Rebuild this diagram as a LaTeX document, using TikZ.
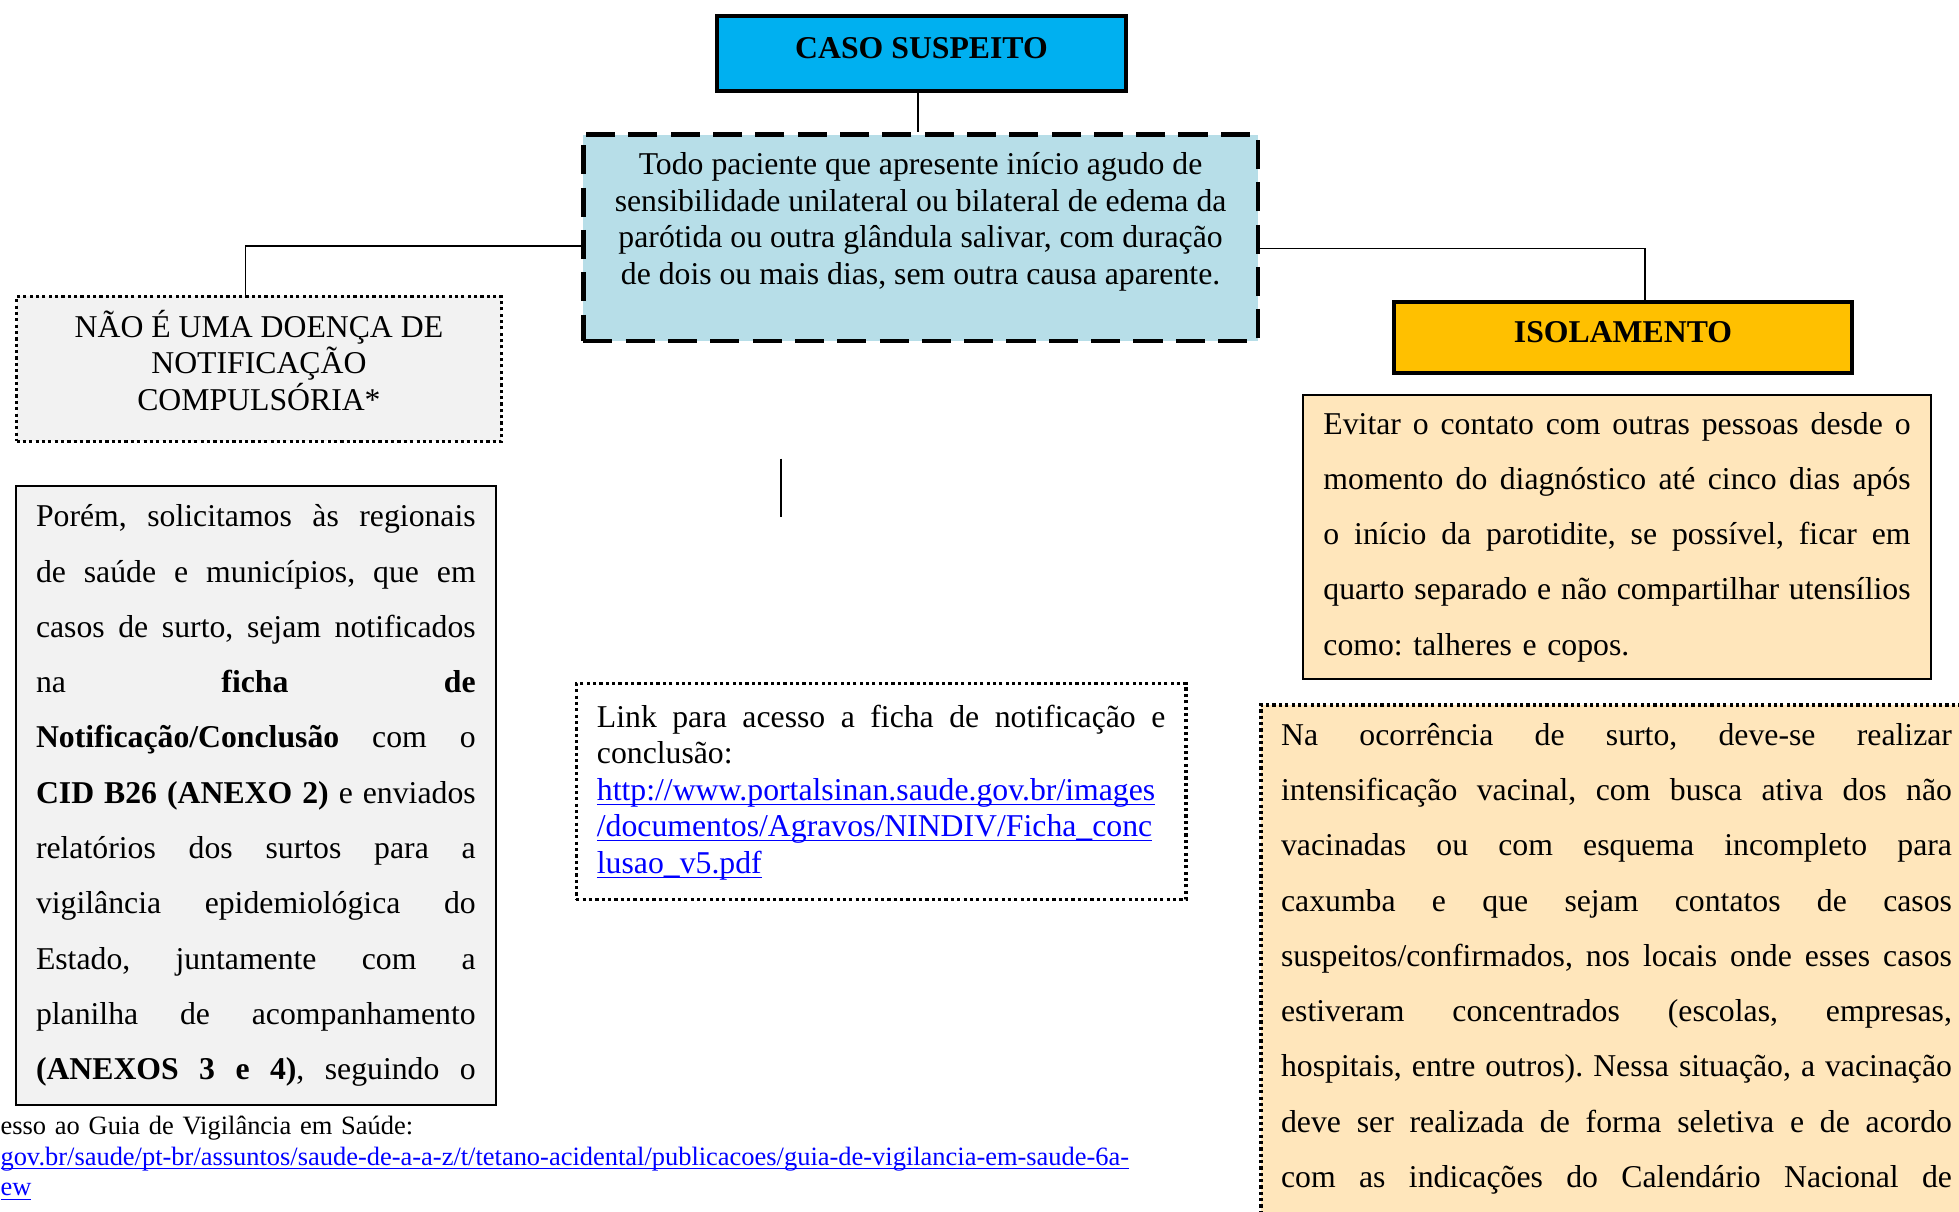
\documentclass[tikz,border=0pt]{standalone}
\usepackage{fontspec}
\setmainfont{Liberation Serif}
\usepackage{tikz}
\usetikzlibrary{positioning}
\frenchspacing
\tikzstyle{sheet} = [x = 0.0166cm, y = -0.0166cm]
\definecolor{caseColor}{RGB}{0,176,240}
\definecolor{definitionColor}{RGB}{183,222,232}
\definecolor{noteColor}{RGB}{242,242,242}
\definecolor{isolationColor}{RGB}{255,192,0}
\definecolor{adviceColor}{RGB}{255,230,187}
\definecolor{linkColor}{RGB}{0,0,255}
\tikzstyle{headerBox} = [draw, line width=1.5pt, anchor=north west, font=\fontsize{12}{13.8}\selectfont\bfseries, text height=0.68em, text depth=0.3em]
\tikzstyle{definitionBox} = [draw, fill=definitionColor, line width=1.75pt, dash pattern=on 11pt off 5pt, anchor=north west]
\tikzstyle{dottedBox} = [draw, line width=1.2pt, dash pattern=on 1.2pt off 1.2pt, anchor=north west]
\tikzstyle{plainBox} = [draw, line width=0.75pt, anchor=north west]
\tikzstyle{singleText} = [font=\fontsize{12}{13.8}\selectfont]
\tikzstyle{spacedText} = [font=\fontsize{12}{20.9}\selectfont, align=left, inner sep=0pt]
\tikzstyle{connector} = [line width=0.6pt]
\newlength{\textLineWidth}
\newcommand{\justifiedLine}[1]{\noindent\hbox to \textLineWidth{\spaceskip=0.25em plus 1fil\relax #1}}
\newcommand{\webLink}[1]{\textcolor{linkColor}{\underbar{#1}}}

\begin{document}
\begin{tikzpicture}[sheet]
  \useasboundingbox (0,0) rectangle (1568,970);
  \clip (0,0) rectangle (1568,970);

  \node[headerBox, fill=caseColor, minimum width=5.445cm, minimum height=0.996cm] (caseBox) at (572,11) {CASO SUSPEITO};
  \node[definitionBox, minimum width=8.964cm, minimum height=2.739cm] (definition) at (465,106) {};
  \node[singleText, align=center, inner sep=0pt, below=0.26cm of definition.north] (definitionText)
    {Todo paciente que apresente início agudo de\\
     sensibilidade unilateral ou bilateral de edema da\\
     parótida ou outra glândula salivar, com duração\\
     de dois ou mais dias, sem outra causa aparente.};

  \node[dottedBox, fill=noteColor, minimum width=6.441cm, minimum height=1.926cm] (notCompulsory) at (12,236) {};
  \node[singleText, align=center, inner sep=0pt] (notCompulsoryText) at ([yshift=0.116cm]notCompulsory.center)
    {NÃO É UMA DOENÇA DE\\NOTIFICAÇÃO\\COMPULSÓRIA*};
  \setlength{\textLineWidth}{5.843cm}
  \node[plainBox, fill=noteColor, spacedText, text width=5.843cm, inner xsep=0.266cm, minimum height=8.234cm] (outbreakNote) at (12,388)
    {\justifiedLine{Porém, solicitamos às regionais}\\
     \justifiedLine{de saúde e municípios, que em}\\
     \justifiedLine{casos de surto, sejam notificados}\\
     \justifiedLine{na \textbf{ficha de}}\\
     \justifiedLine{\textbf{Notificação/Conclusão} com o}\\
     \justifiedLine{\textbf{CID B26 (ANEXO 2)} e enviados}\\
     \justifiedLine{relatórios dos surtos para a}\\
     \justifiedLine{vigilância epidemiológica do}\\
     \justifiedLine{Estado, juntamente com a}\\
     \justifiedLine{planilha de acompanhamento}\\
     \justifiedLine{\textbf{(ANEXOS 3 e 4)}, seguindo o}};
  \node[font=\fontsize{10}{11.5}\selectfont, align=left, text width=16cm, inner sep=0pt, anchor=north west] (guideLink) at (0,893)
    {esso ao Guia de Vigilância em Saúde:\\
     \webLink{gov.br/saude/pt-br/assuntos/saude-de-a-a-z/t/tetano-acidental/publicacoes/guia-de-vigilancia-em-saude-6a-}\\
     \webLink{ew}};

  \coordinate (stubTop) at (625,367);
  \coordinate (stubEnd) at (625,414);
  \draw[connector] (stubTop) -- (stubEnd);

  \setlength{\textLineWidth}{7.553cm}
  \node[dottedBox, fill=white, singleText, align=left, text width=7.553cm, inner xsep=0.274cm, inner ysep=0pt, minimum height=2.872cm] (formLink) at (460,546)
    {\justifiedLine{Link para acesso a ficha de notificação e}\\
     conclusão:\\
     \webLink{http://www.portalsinan.saude.gov.br/images}\\
     \webLink{/documentos/Agravos/NINDIV/Ficha\_conc}\\
     \webLink{lusao\_v5.pdf}};

  \node[headerBox, fill=isolationColor, minimum width=6.092cm, minimum height=0.946cm] (isolation) at (1114,240) {ISOLAMENTO};
  \setlength{\textLineWidth}{7.802cm}
  \node[plainBox, fill=adviceColor, spacedText, text width=7.802cm, inner xsep=0.274cm, minimum height=3.785cm] (isolationAdvice) at (1042,315)
    {\justifiedLine{Evitar o contato com outras pessoas desde o}\\
     \justifiedLine{momento do diagnóstico até cinco dias após}\\
     \justifiedLine{o início da parotidite, se possível, ficar em}\\
     \justifiedLine{quarto separado e não compartilhar utensílios}\\
     como: talheres e copos.};
  \setlength{\textLineWidth}{8.914cm}
  \node[dottedBox, fill=adviceColor, minimum width=9.479cm, minimum height=7.47cm] (outbreakBox) at (1008,563) {};
  \node[spacedText, text width=8.914cm, below right=0.255cm and 0.282cm of outbreakBox.north west] (outbreakText)
    {\justifiedLine{Na ocorrência de surto, deve-se realizar}\\
     \justifiedLine{intensificação vacinal, com busca ativa dos não}\\
     \justifiedLine{vacinadas ou com esquema incompleto para}\\
     \justifiedLine{caxumba e que sejam contatos de casos}\\
     \justifiedLine{suspeitos/confirmados, nos locais onde esses casos}\\
     \justifiedLine{estiveram concentrados (escolas, empresas,}\\
     \justifiedLine{hospitais, entre outros). Nessa situação, a vacinação}\\
     \justifiedLine{deve ser realizada de forma seletiva e de acordo}\\
     \justifiedLine{com as indicações do Calendário Nacional de}};

  \draw[connector] ([xshift=-0.05cm]caseBox.south) -- ([xshift=-0.05cm]caseBox.south |- definition.north);
  \draw[connector] ([yshift=-0.11cm]definition.west) -| ([xshift=-0.18cm]notCompulsory.north);
  \draw[connector] ([yshift=-0.14cm]definition.east) -| ([xshift=0.29cm]isolation.north);
\end{tikzpicture}
\end{document}
